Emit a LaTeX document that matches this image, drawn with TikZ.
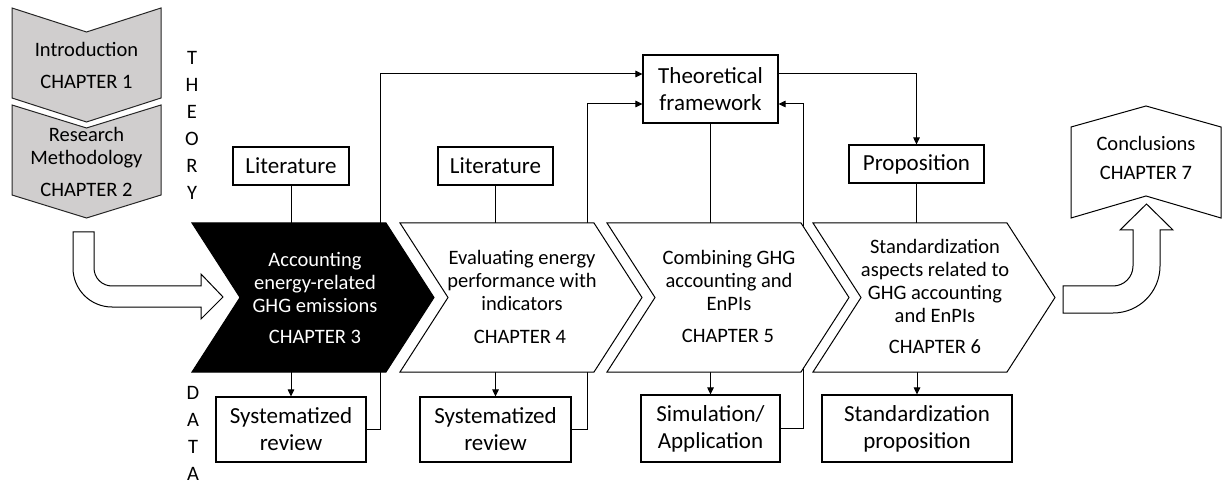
\documentclass[tikz,border=0pt]{standalone}
\usepackage{fontspec}
\setmainfont{Carlito}
\usetikzlibrary{arrows.meta}
\pgfdeclarelayer{back}
\pgfsetlayers{back,main}
\definecolor{chgray}{HTML}{D0CECE}

\begin{document}
\begin{tikzpicture}[x=1pt,y=1pt,
  txt/.style={font=\fontsize{20.5}{23}\selectfont, align=center, inner sep=0},
  box/.style={draw, line width=1.1pt, font=\fontsize{23}{27}\selectfont, align=center, inner sep=0},
  chevbox/.style={minimum width=242pt, minimum height=149pt, inner sep=0},
  chevw/.style={draw=black, line width=1pt, fill=white},
  chevb/.style={draw=black, line width=1pt, fill=black},
  greychev/.style={draw=black!85, line width=1pt, fill=chgray},
  blockarrow/.style={draw=black, line width=1pt, fill=white},
  link/.style={line width=1pt},
  arr/.style={link, -{Triangle[length=7pt,width=6.5pt]}},
]
\useasboundingbox (0,0) rectangle (1223,-486);

% ---------- introductory chapters ----------
\draw[greychev] (12,-8) -- (86.5,-32) -- (161,-8) -- (161,-98) -- (86.5,-122) -- (12,-98) -- cycle;
\draw[greychev] (12,-105) -- (86.5,-128) -- (161,-105) -- (161,-195) -- (86.5,-218) -- (12,-195) -- cycle;
\node[txt] (ch1a) at (86.5,-49) {Introduction};
\node[txt] (ch1b) at (86.5,-82) {CHAPTER 1};
\node[txt] (ch2a) at (86.5,-148) {Research\\Methodology};
\node[txt] (ch2b) at (86.5,-190) {CHAPTER 2};

\node[txt, font=\fontsize{20.5}{27}\selectfont] (theory) at (192,-125.5) {T\\H\\E\\O\\R\\Y};
\node[txt, font=\fontsize{20.5}{27}\selectfont] (data) at (193,-433) {D\\A\\T\\A};

% ---------- block arrows ----------
\draw[blockarrow] (73,-232) -- (94,-232) -- (94,-268)
  arc[start angle=180, end angle=270, radius=18] -- (201,-286) -- (201,-274)
  -- (223,-297) -- (201,-319) -- (201,-307) -- (112,-307)
  arc[start angle=270, end angle=180, radius=39] -- cycle;
\draw[blockarrow] (1063,-286) -- (1113,-286)
  arc[start angle=-90, end angle=0, radius=20] -- (1133,-230) -- (1120,-230)
  -- (1146.5,-204) -- (1173,-230) -- (1160,-230) -- (1160,-266)
  arc[start angle=0, end angle=-90, radius=47] -- (1063,-313) -- cycle;

% ---------- conclusions ----------
\draw[chevw] (1071,-127) -- (1146,-106) -- (1221,-127) -- (1221,-218) -- (1146,-196) -- (1071,-218) -- cycle;
\node[txt] (ch7a) at (1146,-143) {Conclusions};
\node[txt] (ch7b) at (1146,-173) {CHAPTER 7};

% ---------- main chapter chevrons ----------
\node[chevbox] (c3) at (313,-297.5) {};
\node[chevbox] (c4) at (521,-297.5) {};
\node[chevbox] (c5) at (728,-297.5) {};
\node[chevbox] (c6) at (934,-297.5) {};
\draw[chevb] (192,-223) -- ++(194,0) -- ++(48,-74.5) -- ++(-48,-74.5) -- ++(-194,0) -- ++(48,74.5) -- cycle;
\draw[chevw] (400,-223) -- ++(194,0) -- ++(48,-74.5) -- ++(-48,-74.5) -- ++(-194,0) -- ++(48,74.5) -- cycle;
\draw[chevw] (607,-223) -- ++(194,0) -- ++(48,-74.5) -- ++(-48,-74.5) -- ++(-194,0) -- ++(48,74.5) -- cycle;
\draw[chevw] (813,-223) -- ++(194,0) -- ++(48,-74.5) -- ++(-48,-74.5) -- ++(-194,0) -- ++(48,74.5) -- cycle;

\node[txt, text=white] (t3) at (315,-282) {Accounting\\energy-related\\GHG emissions};
\node[txt, text=white] (t3c) at (315,-337) {CHAPTER 3};
\node[txt] (t4) at (522,-280) {Evaluating energy\\performance with\\indicators};
\node[txt] (t4c) at (520,-337) {CHAPTER 4};
\node[txt] (t5) at (729,-280) {Combining GHG\\accounting and\\EnPIs};
\node[txt] (t5c) at (728,-336) {CHAPTER 5};
\node[txt] (t6) at (935,-281) {Standardization\\aspects related to\\GHG accounting\\and EnPIs};
\node[txt] (t6c) at (935,-347) {CHAPTER 6};

% ---------- boxes ----------
\node[box, minimum width=116pt, minimum height=38pt] (lit3) at (291,-166) {Literature};
\node[box, minimum width=115pt, minimum height=38pt] (lit4) at (495.5,-166) {Literature};
\node[box, minimum width=135pt, minimum height=68pt] (theo) at (710.5,-89) {Theoretical\\framework};
\node[box, minimum width=135pt, minimum height=38pt] (prop) at (916.5,-164) {Proposition};
\node[box, minimum width=150pt, minimum height=65pt] (sys3) at (291,-429.5) {Systematized\\review};
\node[box, minimum width=151pt, minimum height=65pt] (sys4) at (495.5,-429.5) {Systematized\\review};
\node[box, minimum width=139pt, minimum height=67pt] (sim) at (710.5,-428.5) {Simulation/\\Application};
\node[box, minimum width=190pt, minimum height=67pt] (std) at (917,-428.5) {Standardization\\proposition};

% ---------- connectors ----------
\begin{pgfonlayer}{back}
\draw[link] (lit3.south) -- (lit3.south |- c3.north);
\draw[link] (lit4.south) -- (lit4.south |- c4.north);
\draw[link] (theo.south) -- (theo.south |- c5.north);
\draw[link] (prop.south) -- (prop.south |- c6.north);

\draw[arr] (sys3.north |- c3.south) -- (sys3.north);
\draw[arr] (sys4.north |- c4.south) -- (sys4.north);
\draw[arr] (sim.north |- c5.south) -- (sim.north);
\draw[arr] (std.north |- c6.south) -- (std.north);

\draw[arr] (sys3.east) -- ++(14,0) |- ([yshift=15pt]theo.west);
\draw[arr] (sys4.east) -- ++(16,0) |- ([yshift=-15pt]theo.west);
\draw[arr] (sim.east) -- ++(23,0) |- ([yshift=-15pt]theo.east);
\draw[arr] ([yshift=15pt]theo.east) -| (prop.north);
\end{pgfonlayer}
\end{tikzpicture}
\end{document}
